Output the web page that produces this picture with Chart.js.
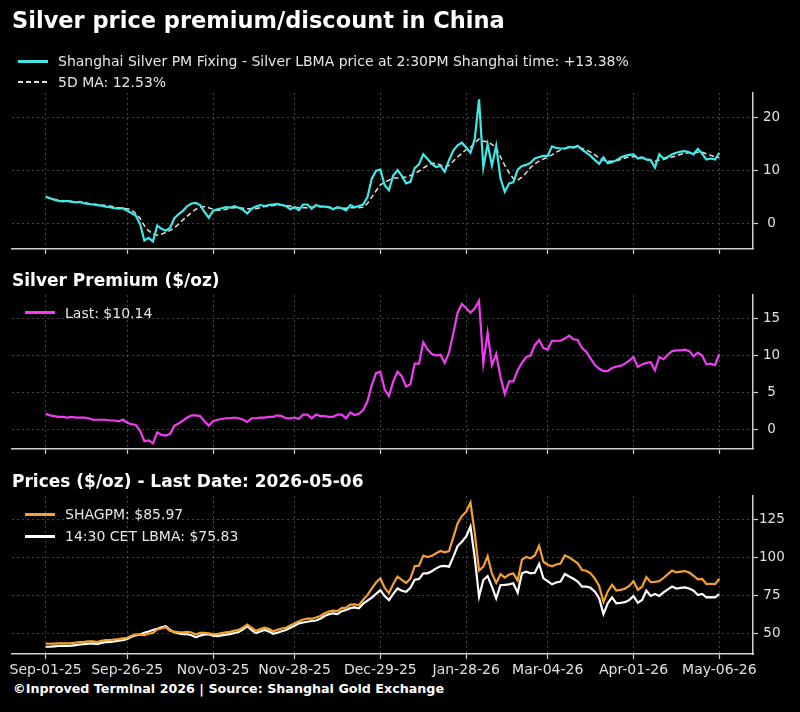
<!DOCTYPE html>
<html>
<head>
<meta charset="utf-8">
<script src="https://cdn.jsdelivr.net/npm/chart.js@4.4.1/dist/chart.umd.min.js"></script>
<style>
  body { margin: 0; background: #000; width: 800px; height: 712px; overflow: hidden; position: relative; font-family: "DejaVu Sans", sans-serif; color: #e6e6e6; }
  canvas { position: absolute; left: 0; }
  .t { position: absolute; white-space: nowrap; }
  .title { left: 12px; top: 6px; font-size: 22.5px; line-height: 28px; font-weight: bold; color: #fff; }
  .sub { left: 12px; font-size: 17px; line-height: 20px; font-weight: bold; color: #fff; }
  .leg { font-size: 14px; line-height: 16px; }
  .sw { position: absolute; width: 30px; height: 0; }
  .dsw { position: absolute; width: 30px; height: 1.6px; background: repeating-linear-gradient(90deg, #e0e0e0 0 5px, transparent 5px 8px); }
  .foot { left: 13px; top: 681px; font-size: 12.7px; line-height: 16px; font-weight: bold; color: #fff; }
</style>
</head>
<body>
<canvas id="c1" width="800" height="262" style="top:0px"></canvas>
<canvas id="c2" width="800" height="200" style="top:262px"></canvas>
<canvas id="c3" width="800" height="215" style="top:462px"></canvas>

<div class="t title">Silver price premium/discount in China</div>
<div class="sw" style="left:18px;top:60px;border-top:3px solid #40e8e8"></div>
<div class="t leg" style="left:58px;top:53px">Shanghai Silver PM Fixing - Silver LBMA price at 2:30PM Shanghai time: +13.38%</div>
<div class="dsw" style="left:18px;top:81px"></div>
<div class="t leg" style="left:58px;top:74px">5D MA: 12.53%</div>

<div class="t sub" style="top:270px">Silver Premium ($/oz)</div>
<div class="sw" style="left:25px;top:311px;border-top:3px solid #f23cf2"></div>
<div class="t leg" style="left:65px;top:305px">Last: $10.14</div>

<div class="t sub" style="top:471px">Prices ($/oz) - Last Date: 2026-05-06</div>
<div class="sw" style="left:25px;top:513px;border-top:3px solid #f5a030"></div>
<div class="t leg" style="left:65px;top:506px">SHAGPM: $85.97</div>
<div class="sw" style="left:25px;top:535px;border-top:3px solid #ffffff"></div>
<div class="t leg" style="left:65px;top:528px">14:30 CET LBMA: $75.83</div>

<div class="t foot">©Inproved Terminal 2026 | Source: Shanghai Gold Exchange</div>

<script>
const tickIdx = [0, 19, 39, 58, 78, 98, 117, 137, 157];
const tickLabels = ["Sep-01-25", "Sep-26-25", "Nov-03-25", "Nov-28-25", "Dec-29-25", "Jan-28-26", "Mar-04-26", "Apr-01-26", "May-06-26"];

// premium % (SHAGPM vs LBMA)
const premiumPct = [
  5.1, 4.8, 4.5, 4.3, 4.2, 4.3, 4.1, 4.0, 4.1, 3.8,
  3.7, 3.6, 3.5, 3.4, 3.2, 3.1, 2.9, 2.8, 2.9, 2.4,
  2.0, 1.5, -0.1, -3.2, -2.7, -3.4, -0.4, -1.0, -1.35, -0.8,
  1.0, 1.8, 2.4, 3.3, 3.8, 3.9, 3.5, 2.2, 1.1, 2.4,
  2.7, 2.9, 3.1, 3.0, 3.3, 3.0, 2.6, 1.9, 2.8, 3.2,
  3.5, 3.3, 3.5, 3.6, 3.7, 3.5, 3.3, 2.7, 3.1, 2.5,
  3.6, 3.6, 2.8, 3.5, 3.2, 3.2, 3.1, 2.7, 3.1, 2.9,
  2.5, 3.5, 3.1, 3.3, 3.6, 5.0, 8.5, 10.0, 10.2, 7.3,
  6.3, 9.1, 10.1, 9.0, 7.6, 7.9, 10.5, 11.2, 13.1, 12.2,
  11.3, 10.7, 10.9, 9.8, 12.0, 13.8, 14.8, 15.3, 14.4, 13.4,
  16.0, 23.5, 10.6, 15.0, 11.0, 14.7, 8.5, 6.0, 7.6, 7.8,
  10.2, 10.9, 11.1, 11.5, 12.3, 12.6, 12.8, 12.8, 14.6, 14.3,
  14.2, 14.2, 14.5, 14.4, 14.7, 14.0, 13.4, 12.8, 12.0, 11.3,
  12.5, 11.4, 11.6, 12.0, 12.5, 12.8, 13.0, 13.1, 12.3, 12.5,
  12.1, 12.0, 10.6, 13.1, 12.3, 12.6, 13.1, 13.4, 13.6, 13.7,
  13.5, 13.1, 14.1, 13.2, 12.1, 12.3, 12.1, 13.4
];

// 5 day moving average of the premium %
const premiumPctMA = [
  5.0, 4.8, 4.6, 4.4, 4.3, 4.3, 4.2, 4.1, 4.1, 4.0,
  3.8, 3.7, 3.6, 3.5, 3.4, 3.3, 3.1, 3.0, 2.9, 2.8,
  2.6, 1.9, 1.0, -0.4, -1.4, -2.0, -2.2, -2.0, -1.7, -1.3,
  -0.8, -0.1, 0.7, 1.4, 2.1, 2.7, 3.1, 3.2, 3.0, 2.7,
  2.5, 2.5, 2.7, 2.9, 3.0, 3.0, 2.9, 2.8, 2.8, 2.8,
  3.0, 3.2, 3.3, 3.4, 3.5, 3.5, 3.4, 3.3, 3.1, 3.0,
  3.0, 3.0, 3.1, 3.2, 3.2, 3.2, 3.1, 3.0, 3.0, 2.9,
  2.9, 3.0, 3.0, 3.0, 3.1, 3.8, 5.0, 6.2, 7.3, 7.8,
  8.2, 8.6, 8.6, 8.7, 8.8, 9.1, 9.4, 9.9, 10.5, 11.0,
  11.4, 11.4, 11.1, 10.7, 11.0, 11.8, 12.6, 13.3, 14.0, 14.4,
  15.2, 16.0, 15.6, 15.4, 15.0, 14.2, 12.6, 11.0, 9.6, 8.5,
  8.2, 8.8, 9.6, 10.6, 11.3, 11.8, 12.2, 12.6, 13.0, 13.5,
  13.9, 14.2, 14.3, 14.4, 14.4, 14.2, 13.9, 13.5, 13.0, 12.4,
  12.0, 11.8, 11.8, 11.9, 12.1, 12.4, 12.6, 12.7, 12.6, 12.5,
  12.3, 12.0, 11.8, 12.0, 12.1, 12.4, 12.6, 12.8, 13.1, 13.3,
  13.4, 13.4, 13.5, 13.5, 13.2, 12.9, 12.6, 12.5
];

// premium in $/oz
const premiumUsd = [
  2.1, 1.9, 1.8, 1.7, 1.7, 1.6, 1.7, 1.6, 1.6, 1.6,
  1.5, 1.3, 1.3, 1.3, 1.3, 1.2, 1.2, 1.1, 1.3, 0.9,
  0.7, 0.6, -0.2, -1.6, -1.5, -1.9, -0.4, -0.75, -0.85, -0.6,
  0.5, 0.8, 1.2, 1.6, 1.9, 1.9, 1.8, 1.1, 0.5, 1.1,
  1.3, 1.4, 1.5, 1.5, 1.6, 1.5, 1.3, 1.0, 1.5, 1.5,
  1.6, 1.6, 1.7, 1.7, 1.9, 1.8, 1.5, 1.5, 1.6, 1.4,
  2.0, 2.0, 1.5, 2.0, 1.8, 1.8, 1.7, 1.7, 2.0, 2.0,
  1.5, 2.3, 1.95, 2.1, 2.6, 3.8, 6.0, 7.6, 7.8, 5.4,
  4.5, 6.5, 7.8, 7.2, 5.8, 6.1, 8.9, 8.9, 11.8, 10.8,
  10.2, 10.0, 10.1, 9.0, 10.4, 13.0, 15.8, 17.0, 16.4, 15.8,
  16.4, 17.4, 8.9, 13.1, 8.7, 10.2, 7.1, 4.8, 6.5, 6.5,
  8.0, 9.0, 9.8, 10.0, 11.4, 12.1, 11.0, 10.8, 12.0, 12.0,
  12.0, 12.3, 12.7, 12.2, 12.1, 11.0, 10.5, 9.6, 8.7, 8.2,
  7.9, 7.9, 8.3, 8.5, 8.6, 8.9, 9.3, 9.8, 8.45, 8.8,
  9.0, 9.1, 8.0, 9.8, 9.5, 10.1, 10.6, 10.7, 10.7, 10.8,
  10.6, 9.9, 10.4, 10.0, 8.8, 8.9, 8.7, 10.2
];

// Shanghai PM fixing, $/oz
const shagpm = [
  43.0, 42.9, 43.0, 43.1, 43.2, 43.1, 43.3, 43.6, 44.0, 44.2,
  44.5, 44.5, 44.0, 44.8, 45.3, 45.4, 45.7, 46.0, 46.5, 46.9,
  48.2, 49.1, 48.8, 48.6, 49.5, 50.1, 52.4, 53.0, 53.8, 51.4,
  51.0, 50.6, 50.5, 50.8, 50.4, 49.0, 50.1, 50.1, 49.8, 49.3,
  49.3, 49.9, 50.5, 50.8, 51.6, 52.2, 53.7, 55.6, 53.5, 51.5,
  52.6, 53.6, 52.8, 51.2, 52.1, 53.0, 53.5, 55.0, 56.4, 57.8,
  59.0, 59.5, 59.5, 60.3, 61.3, 63.1, 64.2, 64.8, 64.6, 66.5,
  66.8, 68.8, 69.0, 68.5, 72.1, 75.3, 79.5, 83.6, 86.3, 79.9,
  76.4, 82.5, 87.4, 85.2, 83.2, 86.1, 94.3, 94.7, 101.4, 100.4,
  101.2, 102.9, 104.4, 103.5, 104.4, 113.5, 122.7, 127.6, 130.5, 136.5,
  116.5, 91.5, 94.1, 100.9, 89.5, 83.2, 89.0, 86.8, 88.8, 89.5,
  84.8, 98.6, 100.5, 99.6, 101.4, 107.9, 97.3, 95.3, 94.3, 95.5,
  96.1, 101.5, 100.2, 98.2, 96.2, 91.8, 91.3, 89.6, 86.1, 81.2,
  70.5, 77.6, 82.0, 78.2, 78.6, 79.4, 81.2, 84.4, 78.6, 80.7,
  87.1, 83.7, 83.9, 84.4, 86.5, 89.1, 91.4, 90.2, 90.7, 91.1,
  90.1, 88.0, 85.6, 85.9, 82.5, 82.7, 82.4, 86.0
];

// LBMA 14:30, $/oz
const lbma = [
  40.9, 41.0, 41.2, 41.4, 41.5, 41.5, 41.6, 42.0, 42.4, 42.6,
  43.0, 43.2, 42.7, 43.5, 44.0, 44.2, 44.5, 44.9, 45.2, 46.0,
  47.5, 48.5, 49.0, 50.2, 51.0, 52.0, 52.8, 53.8, 54.6, 52.0,
  50.5, 49.8, 49.3, 49.2, 48.5, 47.1, 48.3, 49.0, 49.3, 48.2,
  48.0, 48.5, 49.0, 49.3, 50.0, 50.7, 52.4, 54.6, 52.0, 50.0,
  51.0, 52.0, 51.1, 49.5, 50.2, 51.2, 52.0, 53.5, 54.8, 56.4,
  57.0, 57.5, 58.0, 58.3, 59.5, 61.3, 62.5, 63.1, 62.6, 64.5,
  65.3, 66.5, 67.0, 66.4, 69.5, 71.5, 73.5, 76.0, 78.5, 74.5,
  71.9, 76.0, 79.6, 78.0, 77.4, 80.0, 85.4, 85.8, 89.6, 89.6,
  91.0, 92.9, 94.3, 94.5, 94.0, 100.5, 107.7, 110.6, 114.0, 120.6,
  100.0, 74.1, 85.2, 87.8, 80.8, 73.0, 81.9, 82.0, 82.3, 83.0,
  76.8, 89.6, 90.7, 89.6, 90.0, 95.8, 86.3, 84.5, 82.3, 83.5,
  84.1, 89.2, 87.5, 86.0, 84.1, 80.8, 80.8, 80.0, 77.4, 73.0,
  62.6, 69.7, 73.7, 69.7, 70.0, 70.5, 71.9, 74.6, 70.1, 71.9,
  78.1, 74.6, 75.9, 74.6, 77.0, 79.0, 80.8, 79.5, 80.0, 80.3,
  79.5, 78.1, 75.2, 75.9, 73.7, 73.8, 73.7, 75.8
];

Chart.defaults.font.family = "'DejaVu Sans', sans-serif";
Chart.defaults.font.size = 13;
Chart.defaults.color = "#e0e0e0";

const gridColor = "rgba(255,255,255,0.26)";
const spineColor = "#d0d0d0";

function pts(arr) {
  return arr.map((v, i) => ({ x: i, y: v }));
}

function line(label, arr, color, extra) {
  return Object.assign({
    label: label,
    data: pts(arr),
    borderColor: color,
    borderWidth: 2.2,
    pointRadius: 0,
    tension: 0,
    fill: false,
  }, extra || {});
}

function panel(id, datasets, yMin, yMax, yTicks, padTop, xHeight, showX, yPad) {
  return new Chart(document.getElementById(id), {
    type: "line",
    data: { datasets: datasets },
    options: {
      responsive: false,
      animation: false,
      events: [],
      layout: { autoPadding: false, padding: { left: 12, top: padTop, right: 0, bottom: 0 } },
      plugins: { legend: { display: false }, tooltip: { enabled: false } },
      scales: {
        x: {
          type: "linear",
          min: -7.85,
          max: 164.85,
          afterBuildTicks: (s) => { s.ticks = tickIdx.map((v) => ({ value: v })); },
          afterFit: (s) => { s.height = xHeight; },
          ticks: {
            display: showX,
            autoSkip: false,
            maxRotation: 0,
            padding: 3,
            color: "#e0e0e0",
            font: { size: 14 },
            callback: (v, i) => tickLabels[i],
          },
          grid: { color: gridColor, tickColor: spineColor, tickLength: 5, tickWidth: 1.2, lineWidth: 1 },
          border: { color: spineColor, width: 1.5, dash: [2, 3] },
        },
        y: {
          position: "right",
          min: yMin,
          max: yMax,
          afterBuildTicks: (s) => { s.ticks = yTicks.map((v) => ({ value: v })); },
          afterFit: (s) => { s.width = 47; },
          ticks: { crossAlign: "center", padding: yPad, color: "#e0e0e0", font: { size: 13.5 } },
          grid: { color: gridColor, tickColor: spineColor, tickLength: 5, tickWidth: 1.2, lineWidth: 1 },
          border: { color: spineColor, width: 1.5, dash: [2, 3] },
        },
      },
    },
  });
}

panel("c1", [
  line("Shanghai Silver PM Fixing - Silver LBMA price at 2:30PM Shanghai time", premiumPct, "#40e8e8"),
  line("5D MA", premiumPctMA, "#e0e0e0", { borderWidth: 1.5, borderDash: [5, 3] }),
], -4.8, 24.7, [0, 10, 20], 93, 10, false, 5);

panel("c2", [
  line("Last", premiumUsd, "#f23cf2"),
], -2.65, 18.2, [0, 5, 10, 15], 33, 10, false, 5);

panel("c3", [
  line("SHAGPM", shagpm, "#f5a030"),
  line("14:30 CET LBMA", lbma, "#ffffff"),
], 36.1, 140.9, [50, 75, 100, 125], 34, 23, true, 1);
</script>
</body>
</html>
